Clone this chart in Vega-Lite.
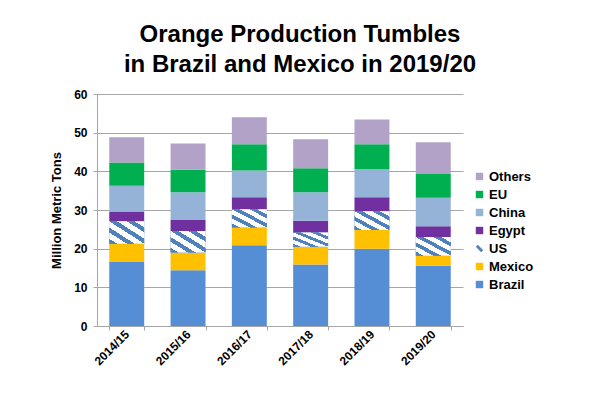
{
  "$schema": "https://vega.github.io/schema/vega-lite/v6.json",
  "autosize": {"type": "none"},
  "padding": {"left": 97, "top": 94, "right": 137, "bottom": 69},
  "width": 366,
  "height": 232,
  "background": "white",
  "title": {
    "text": ["Orange Production Tumbles", "in Brazil and Mexico in 2019/20"],
    "font": "Liberation Sans",
    "fontSize": 24,
    "fontWeight": "bold",
    "lineHeight": 30,
    "color": "#000000",
    "anchor": "middle",
    "dx": 20,
    "offset": 11
  },
  "data": {
    "values": [
      {"year": "2014/15", "country": "Brazil", "k": 1, "value": 16.7},
      {"year": "2014/15", "country": "Mexico", "k": 2, "value": 4.6},
      {"year": "2014/15", "country": "US", "k": 3, "value": 5.8},
      {"year": "2014/15", "country": "Egypt", "k": 4, "value": 2.5},
      {"year": "2014/15", "country": "China", "k": 5, "value": 6.7},
      {"year": "2014/15", "country": "EU", "k": 6, "value": 6.0},
      {"year": "2014/15", "country": "Others", "k": 7, "value": 6.5},
      {"year": "2015/16", "country": "Brazil", "k": 1, "value": 14.4},
      {"year": "2015/16", "country": "Mexico", "k": 2, "value": 4.6},
      {"year": "2015/16", "country": "US", "k": 3, "value": 5.6},
      {"year": "2015/16", "country": "Egypt", "k": 4, "value": 2.8},
      {"year": "2015/16", "country": "China", "k": 5, "value": 7.2},
      {"year": "2015/16", "country": "EU", "k": 6, "value": 5.8},
      {"year": "2015/16", "country": "Others", "k": 7, "value": 6.8},
      {"year": "2016/17", "country": "Brazil", "k": 1, "value": 20.9},
      {"year": "2016/17", "country": "Mexico", "k": 2, "value": 4.6},
      {"year": "2016/17", "country": "US", "k": 3, "value": 4.7},
      {"year": "2016/17", "country": "Egypt", "k": 4, "value": 3.1},
      {"year": "2016/17", "country": "China", "k": 5, "value": 6.9},
      {"year": "2016/17", "country": "EU", "k": 6, "value": 6.8},
      {"year": "2016/17", "country": "Others", "k": 7, "value": 7.0},
      {"year": "2017/18", "country": "Brazil", "k": 1, "value": 15.9},
      {"year": "2017/18", "country": "Mexico", "k": 2, "value": 4.6},
      {"year": "2017/18", "country": "US", "k": 3, "value": 3.7},
      {"year": "2017/18", "country": "Egypt", "k": 4, "value": 3.0},
      {"year": "2017/18", "country": "China", "k": 5, "value": 7.4},
      {"year": "2017/18", "country": "EU", "k": 6, "value": 6.2},
      {"year": "2017/18", "country": "Others", "k": 7, "value": 7.5},
      {"year": "2018/19", "country": "Brazil", "k": 1, "value": 20.0},
      {"year": "2018/19", "country": "Mexico", "k": 2, "value": 4.8},
      {"year": "2018/19", "country": "US", "k": 3, "value": 4.9},
      {"year": "2018/19", "country": "Egypt", "k": 4, "value": 3.6},
      {"year": "2018/19", "country": "China", "k": 5, "value": 7.3},
      {"year": "2018/19", "country": "EU", "k": 6, "value": 6.4},
      {"year": "2018/19", "country": "Others", "k": 7, "value": 6.4},
      {"year": "2019/20", "country": "Brazil", "k": 1, "value": 15.6},
      {"year": "2019/20", "country": "Mexico", "k": 2, "value": 2.6},
      {"year": "2019/20", "country": "US", "k": 3, "value": 4.8},
      {"year": "2019/20", "country": "Egypt", "k": 4, "value": 2.8},
      {"year": "2019/20", "country": "China", "k": 5, "value": 7.4},
      {"year": "2019/20", "country": "EU", "k": 6, "value": 6.1},
      {"year": "2019/20", "country": "Others", "k": 7, "value": 8.2}
    ]
  },
  "transform": [
    {"stack": "value", "groupby": ["year"], "sort": [{"field": "k", "order": "ascending"}], "as": ["y0", "y1"]}
  ],
  "encoding": {
    "x": {
      "field": "year",
      "type": "nominal",
      "scale": {"paddingInner": 0.43, "paddingOuter": 0.2},
      "axis": {
        "title": null,
        "labelAngle": -45,
        "labelAlign": "right",
        "labelBaseline": "middle",
        "labelFont": "Liberation Sans",
        "labelFontSize": 12,
        "labelFontWeight": "bold",
        "labelColor": "#000000",
        "labelPadding": 2,
        "domainColor": "#A6A6A6",
        "tickColor": "#A6A6A6",
        "tickBand": "extent",
        "tickSize": 4
      }
    },
    "y": {
      "field": "y0",
      "type": "quantitative",
      "scale": {"domain": [0, 60], "nice": false},
      "axis": {
        "title": "Million Metric Tons",
        "titleFont": "Liberation Sans",
        "titleFontSize": 13,
        "titleFontWeight": "bold",
        "titleColor": "#000000",
        "titlePadding": 10,
        "values": [0, 10, 20, 30, 40, 50, 60],
        "labelFont": "Liberation Sans",
        "labelFontSize": 12,
        "labelFontWeight": "bold",
        "labelColor": "#000000",
        "labelPadding": 6,
        "domainColor": "#A6A6A6",
        "tickColor": "#A6A6A6",
        "tickSize": 4,
        "gridColor": "#A6A6A6",
        "grid": true
      }
    },
    "y2": {"field": "y1"}
  },
  "layer": [
    {
      "mark": {"type": "bar"},
      "encoding": {
        "color": {
          "field": "country",
          "type": "nominal",
          "scale": {
            "domain": ["Others", "EU", "China", "Egypt", "US", "Mexico", "Brazil"],
            "range": ["#B3A2C7", "#00B050", "#95B3D7", "#7030A0", "#4F81BD", "#FFC000", "#558ED5"]
          },
          "legend": {
            "title": null,
            "orient": "none",
            "legendX": 376,
            "legendY": 76,
            "symbolType": "square",
            "symbolSize": 55,
            "symbolStrokeWidth": 0,
            "symbolOpacity": 1,
            "labelFont": "Liberation Sans",
            "labelFontSize": 13,
            "labelFontWeight": "bold",
            "labelColor": "#000000",
            "labelOffset": 3,
            "rowPadding": 4,
            "encoding": {
              "symbols": {
                "shape": {
                  "condition": {"test": "datum.value === 'US'", "value": "M-1,-0.45L-0.45,-1L1,0.45L0.45,1Z"},
                  "value": "square"
                }
              }
            }
          }
        }
      }
    },
    {
      "transform": [{"filter": "datum.country === 'US'"}],
      "mark": {
        "type": "bar",
        "color": {"gradient": "linear", "x1": 0, "y1": 1, "x2": 1, "y2": 0, "stops": [
          {"offset": 0, "color": "#4F81BD"}, {"offset": 0.11, "color": "#4F81BD"},
          {"offset": 0.11, "color": "#FFFFFF"}, {"offset": 0.25, "color": "#FFFFFF"},
          {"offset": 0.25, "color": "#4F81BD"}, {"offset": 0.36, "color": "#4F81BD"},
          {"offset": 0.36, "color": "#FFFFFF"}, {"offset": 0.5, "color": "#FFFFFF"},
          {"offset": 0.5, "color": "#4F81BD"}, {"offset": 0.61, "color": "#4F81BD"},
          {"offset": 0.61, "color": "#FFFFFF"}, {"offset": 0.75, "color": "#FFFFFF"},
          {"offset": 0.75, "color": "#4F81BD"}, {"offset": 0.86, "color": "#4F81BD"},
          {"offset": 0.86, "color": "#FFFFFF"}, {"offset": 1, "color": "#FFFFFF"}
        ]}
      }
    }
  ],
  "config": {
    "view": {"stroke": null},
    "axis": {"domainWidth": 1, "gridWidth": 1}
  }
}
